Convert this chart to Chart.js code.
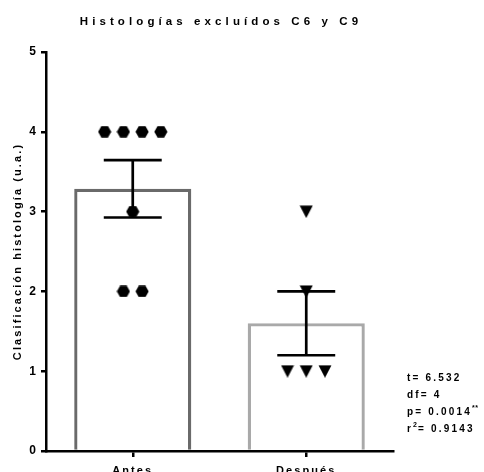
<!DOCTYPE html>
<html lang="es">
<head>
<meta charset="utf-8">
<title>Histologías excluídos C6 y C9</title>
<script src="https://cdn.jsdelivr.net/npm/chart.js@4"></script>
<style>
  html, body { margin: 0; padding: 0; background: #ffffff; }
  canvas { display: block; }
</style>
</head>
<body>
<canvas id="chart" width="484" height="472"></canvas>
<script>
// Histology scores per animal, before and after
const categories = ['Antes', 'Después'];
const antesScores = [4, 4, 4, 4, 3, 2, 2];
const despuesScores = [3, 2, 1, 1, 1];
const yTickValues = [0, 1, 2, 3, 4, 5];

const chartTitle = 'Histologías excluídos C6 y C9';
const yAxisTitle = 'Clasificación histología (u.a.)';
// paired t-test summary
const statLines = [
  [{ t: 't= 6.532' }],
  [{ t: 'df= 4' }],
  [{ t: 'p= 0.0014' }, { t: '**', sup: true }],
  [{ t: 'r' }, { t: '2', sup: true }, { t: '= 0.9143' }]
];

const FONT = "'Liberation Sans', Arial, Helvetica, sans-serif";
Chart.defaults.font.family = FONT;
Chart.defaults.color = '#000000';

function mean(a) { return a.reduce((s, v) => s + v, 0) / a.length; }
function sem(a) {
  const m = mean(a);
  const sd = Math.sqrt(a.reduce((s, v) => s + (v - m) * (v - m), 0) / (a.length - 1));
  return sd / Math.sqrt(a.length);
}
const groups = [antesScores, despuesScores].map(a => ({ mean: mean(a), sem: sem(a) }));

// spread equal scores side by side, centred on the category
const JITTER = 0.108;
function swarm(values, index) {
  const counts = {};
  values.forEach(v => { counts[v] = (counts[v] || 0) + 1; });
  const seen = {};
  return values.map(v => {
    const k = seen[v] = (seen[v] || 0) + 1;
    return { x: index + (k - 1 - (counts[v] - 1) / 2) * JITTER, y: v };
  });
}

// marker glyphs
function hexagonGlyph() {
  const c = document.createElement('canvas');
  c.width = 14; c.height = 12;
  const g = c.getContext('2d');
  g.fillStyle = '#000';
  g.beginPath();
  for (let i = 0; i < 6; i++) {
    const a = i * Math.PI / 3;
    const px = 7 + 6.6 * Math.cos(a), py = 6 + 6.6 * Math.sin(a);
    i ? g.lineTo(px, py) : g.moveTo(px, py);
  }
  g.closePath(); g.fill();
  return c;
}
function triangleDownGlyph() {
  const c = document.createElement('canvas');
  c.width = 14; c.height = 13;
  const g = c.getContext('2d');
  g.fillStyle = '#000';
  g.beginPath();
  g.moveTo(0.5, 0.5); g.lineTo(13.5, 0.5); g.lineTo(7, 13);
  g.closePath(); g.fill();
  return c;
}

const CAP_FRACTION = 0.334;
const errorBars = {
  id: 'errorBars',
  afterDatasetsDraw(chart) {
    const { ctx, scales: { x, y } } = chart;
    const half = (x.width / categories.length) * CAP_FRACTION / 2;
    ctx.save();
    ctx.strokeStyle = '#000';
    ctx.lineWidth = 2.7;
    groups.forEach((g, i) => {
      const cx = x.getPixelForValue(i);
      const top = y.getPixelForValue(g.mean + g.sem);
      const bot = y.getPixelForValue(g.mean - g.sem);
      ctx.beginPath();
      ctx.moveTo(cx, top); ctx.lineTo(cx, bot);
      ctx.moveTo(cx - half, top); ctx.lineTo(cx + half, top);
      ctx.moveTo(cx - half, bot); ctx.lineTo(cx + half, bot);
      ctx.stroke();
    });
    ctx.restore();
  }
};

// tracked lettering for axis text, plus the title and the test summary
const lettering = {
  id: 'lettering',
  beforeDraw(chart) {
    chart.ctx.letterSpacing = '2.1px';
  },
  afterDraw(chart) {
    const { ctx, chartArea } = chart;
    ctx.save();
    ctx.fillStyle = '#000';
    ctx.textBaseline = 'middle';
    ctx.letterSpacing = '4.1px';
    ctx.font = 'bold 11.5px ' + FONT;
    ctx.textAlign = 'center';
    ctx.fillText(chartTitle, (chartArea.left + chartArea.right) / 2 + 1.5, 22);

    ctx.textAlign = 'left';
    const x0 = chartArea.right + 14;
    statLines.forEach((line, li) => {
      let x = x0;
      const yLine = chartArea.bottom - 73 + li * 17;
      line.forEach(seg => {
        ctx.font = (seg.sup ? 'bold 7px ' : 'bold 10px ') + FONT;
        ctx.letterSpacing = seg.sup ? '0.5px' : '2.2px';
        ctx.fillText(seg.t, x, seg.sup ? yLine - 4 : yLine);
        x += ctx.measureText(seg.t).width + (seg.sup ? 0.5 : 0);
      });
    });
    ctx.restore();
  }
};

new Chart(document.getElementById('chart'), {
  type: 'bar',
  data: {
    labels: categories,
    datasets: [
      {
        type: 'bar',
        data: groups.map(g => g.mean),
        backgroundColor: '#ffffff',
        borderColor: ['#6a6a6a', '#a9a9a9'],
        borderWidth: 3.3,
        barPercentage: 0.675,
        categoryPercentage: 1,
        grouped: false,
        order: 3
      },
      {
        type: 'scatter',
        xAxisID: 'xj',
        data: swarm(antesScores, 0),
        pointStyle: hexagonGlyph(),
        pointRadius: 6.5,
        order: 1
      },
      {
        type: 'scatter',
        xAxisID: 'xj',
        data: swarm(despuesScores, 1),
        pointStyle: triangleDownGlyph(),
        pointRadius: 6.5,
        order: 1
      }
    ]
  },
  options: {
    responsive: false,
    animation: false,
    events: [],
    layout: { padding: { top: 52, right: 91, left: 0, bottom: 0 } },
    plugins: { legend: { display: false }, tooltip: { enabled: false }, title: { display: false } },
    scales: {
      x: {
        type: 'category',
        offset: true,
        grid: { display: true, drawOnChartArea: false, offset: false, tickLength: 6, color: '#000', lineWidth: 2.5 },
        border: { display: true, color: '#000', width: 2.5 },
        ticks: { padding: 7, font: { size: 11, weight: 'bold' }, color: '#000', maxRotation: 0 },
        afterFit(s) { s.height = 21; }
      },
      xj: {
        type: 'linear',
        display: false,
        offset: false,
        min: -0.5,
        max: 1.5
      },
      y: {
        type: 'linear',
        min: 0,
        max: 5,
        afterBuildTicks(s) { s.ticks = yTickValues.map(v => ({ value: v })); },
        grid: { display: true, drawOnChartArea: false, tickLength: 5, color: '#000', lineWidth: 2.5 },
        border: { display: true, color: '#000', width: 2.5 },
        ticks: { padding: 3, font: { size: 12, weight: 'bold' }, color: '#000' },
        title: {
          display: true,
          text: yAxisTitle,
          font: { size: 11, weight: 'bold' },
          color: '#000',
          padding: { top: 11.4, bottom: 0 }
        },
        afterFit(s) { s.width = 46; }
      }
    }
  },
  plugins: [errorBars, lettering]
});
</script>
</body>
</html>
